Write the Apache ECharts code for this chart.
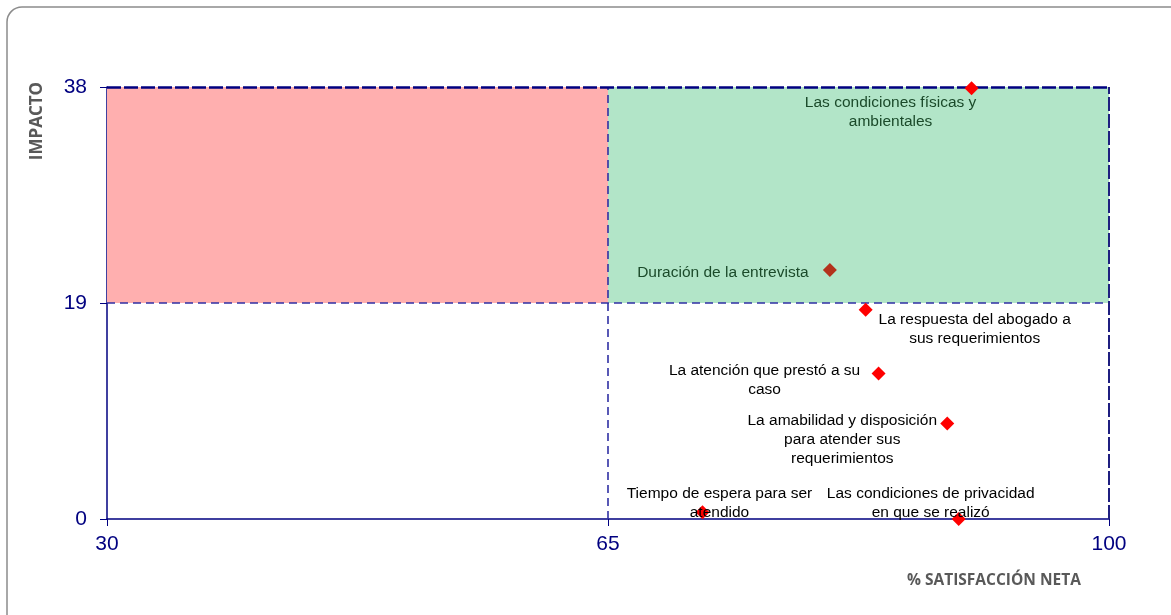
<!DOCTYPE html>
<html>
<head>
<meta charset="utf-8">
<script src="https://cdn.jsdelivr.net/npm/echarts@6/dist/echarts.min.js"></script>
<style>
  html, body { margin: 0; padding: 0; background: #fff; }
  #chart { width: 1171px; height: 615px; }
</style>
</head>
<body>
<div id="chart"></div>
<script>
// datos del gráfico
const nombres = [
  'Las condiciones físicas y\nambientales',
  'Duración de la entrevista',
  'La respuesta del abogado a\nsus requerimientos',
  'La atención que prestó a su\ncaso',
  'La amabilidad y disposición\npara atender sus\nrequerimientos',
  'Tiempo de espera para ser\natendido',
  'Las condiciones de privacidad\nen que se realizó'
];
const satisfaccion = [90.4, 80.5, 83.0, 83.9, 88.7, 71.6, 89.5];
const impacto = [37.9, 21.9, 18.4, 12.8, 8.4, 0.6, 0];
const xTicks = [30, 65, 100];
const yTicks = [0, 19, 38];

// desplazamiento de cada etiqueta respecto al punto
const offsets = [[-81, 24], [-107, 3], [109, 19], [-114, 7], [-105, 16], [17, -9], [-28, -16]];
const colorEtiqueta = ['#1b4a2a', '#1b4a2a', '#000', '#000', '#000', '#000', '#000'];
const colorPunto = ['#ff0000', '#b3321c', '#ff0000', '#ff0000', '#ff0000', '#ff0000', '#ff0000'];

const chart = echarts.init(document.getElementById('chart'));

const dashStyle = { color: '#3030a4', width: 1.6, type: [8, 5], opacity: 1 };

const option = {
  animation: false,
  grid: { left: 107, right: 62, top: 87, bottom: 96 },
  graphic: [
    {
      type: 'rect',
      shape: { x: 7, y: 7, width: 1190, height: 640, r: 15 },
      style: { fill: 'none', stroke: '#8c8c8c', lineWidth: 1.5 },
      z: 0
    },
    {
      type: 'text',
      left: 907, top: 573,
      style: { text: '% SATISFACCIÓN NETA', font: 'bold 15.5px "Open Sans", Arial', fill: '#595959' }
    },
    {
      type: 'text',
      x: 37, y: 121, rotation: Math.PI / 2,
      style: { text: 'IMPACTO', font: 'bold 17px "Open Sans", Arial', fill: '#595959', align: 'center', verticalAlign: 'middle' }
    }
  ],
  xAxis: {
    type: 'value',
    min: xTicks[0], max: xTicks[xTicks.length - 1], interval: 35,
    axisLine: { show: true, lineStyle: { color: '#000080', width: 1.5 } },
    axisTick: { show: true, length: 7, lineStyle: { color: '#000080' } },
    axisLabel: { color: '#000080', fontSize: 21, fontFamily: 'Liberation Sans, Arial', margin: 15 },
    splitLine: { show: false }
  },
  yAxis: {
    type: 'value',
    min: yTicks[0], max: yTicks[yTicks.length - 1], interval: 19,
    axisLine: { show: true, lineStyle: { color: '#000080', width: 1.5 } },
    axisTick: { show: true, length: 7, lineStyle: { color: '#000080' } },
    axisLabel: { color: '#000080', fontSize: 21, fontFamily: 'Liberation Sans, Arial', margin: 20 },
    splitLine: { show: false }
  },
  series: [{
    type: 'scatter',
    symbol: 'diamond',
    symbolSize: 14,
    z: 5,
    itemStyle: { opacity: 1 },
    data: nombres.map((n, i) => ({
      name: n,
      value: [satisfaccion[i], impacto[i]],
      itemStyle: { color: colorPunto[i], opacity: 1 },
      label: { offset: offsets[i], color: colorEtiqueta[i] }
    })),
    label: {
      show: true,
      position: 'inside',
      formatter: p => p.name,
      align: 'center',
      verticalAlign: 'middle',
      fontSize: 15.5,
      lineHeight: 19,
      fontFamily: 'Liberation Sans, Arial'
    },
    markArea: {
      silent: true,
      z: 1,
      data: [
        [{ coord: [30, 19], itemStyle: { color: '#ffafaf', opacity: 1 } }, { coord: [65, 38] }],
        [{ coord: [65, 19], itemStyle: { color: '#b2e5c8', opacity: 1 } }, { coord: [100, 38] }]
      ]
    },
    markLine: {
      silent: true,
      symbol: 'none',
      label: { show: false },
      lineStyle: dashStyle,
      data: [
        { xAxis: 65 },
        { yAxis: 19 },
        [{ coord: [30, 38], lineStyle: { color: '#000080', width: 2.5, type: [14, 3], opacity: 1 } }, { coord: [100, 38] }],
        { xAxis: 100, lineStyle: { color: '#1f1f80', width: 2, type: [14, 3], opacity: 1 } }
      ]
    }
  }]
};

chart.setOption(option);
</script>
</body>
</html>
